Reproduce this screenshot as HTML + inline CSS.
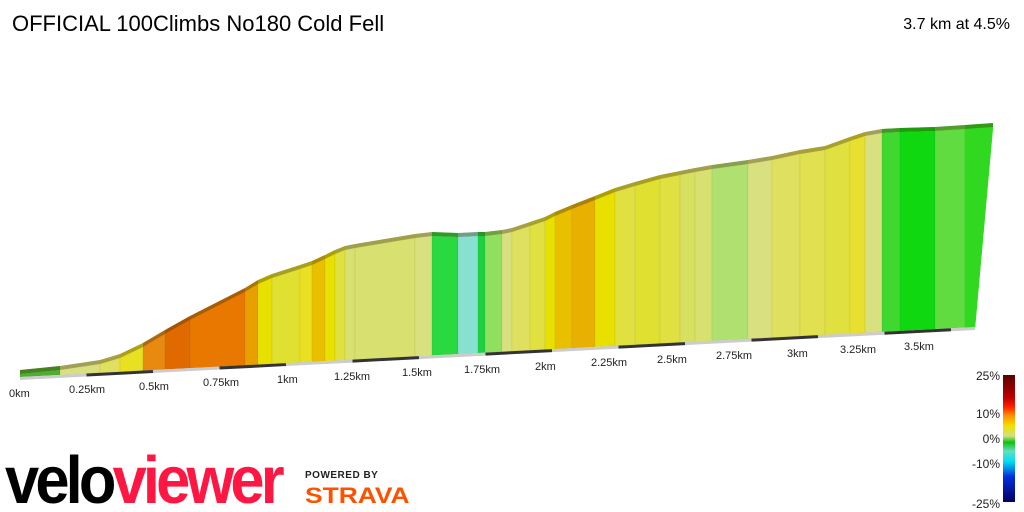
<!DOCTYPE html>
<html><head><meta charset="utf-8"><style>
html,body{margin:0;padding:0;background:#fff;width:1024px;height:512px;overflow:hidden;font-family:"Liberation Sans",sans-serif}
</style></head><body>
<svg id="s" width="1024" height="512" xmlns="http://www.w3.org/2000/svg" style="position:absolute;left:0;top:0">
<defs>
<linearGradient id="cb" x1="0" y1="0" x2="0" y2="1">
<stop offset="0" stop-color="#5a0000"/>
<stop offset="0.18" stop-color="#c00000"/>
<stop offset="0.25" stop-color="#ff2000"/>
<stop offset="0.32" stop-color="#ff9000"/>
<stop offset="0.40" stop-color="#f0e000"/>
<stop offset="0.48" stop-color="#d0e080"/>
<stop offset="0.53" stop-color="#10c010"/>
<stop offset="0.60" stop-color="#60e0c0"/>
<stop offset="0.68" stop-color="#00e0f0"/>
<stop offset="0.80" stop-color="#0030e0"/>
<stop offset="1" stop-color="#000060"/>
</linearGradient>
</defs>
<text x="12" y="31" font-size="22" fill="#000">OFFICIAL 100Climbs No180 Cold Fell</text>
<text x="1010" y="29" font-size="16" fill="#000" text-anchor="end">3.7 km at 4.5%</text>
<g id="prof"></g>
<g font-size="11" fill="#222">
<text x="9" y="397">0km</text>
<text x="69" y="393">0.25km</text>
<text x="139" y="390">0.5km</text>
<text x="203" y="386">0.75km</text>
<text x="277" y="383">1km</text>
<text x="334" y="380">1.25km</text>
<text x="402" y="376">1.5km</text>
<text x="464" y="373">1.75km</text>
<text x="535" y="370">2km</text>
<text x="591" y="366">2.25km</text>
<text x="657" y="363">2.5km</text>
<text x="716" y="359">2.75km</text>
<text x="787" y="357">3km</text>
<text x="840" y="353">3.25km</text>
<text x="904" y="350">3.5km</text>
</g>
<rect x="1003" y="375" width="12" height="127" fill="url(#cb)"/>
<g font-size="12" fill="#222" text-anchor="end">
<text x="1000" y="380">25%</text>
<text x="1000" y="418">10%</text>
<text x="1000" y="443">0%</text>
<text x="1000" y="468">-10%</text>
<text x="1000" y="508">-25%</text>
</g>
<g transform="translate(5,503) scale(0.96,1.05)" font-weight="bold" font-size="64" letter-spacing="-4">
<text x="0" y="0" fill="#000">velo<tspan fill="#ff1744">viewer</tspan></text>
</g>
<text x="305" y="478" font-size="10" font-weight="bold" fill="#222" letter-spacing="0.5">POWERED BY</text>
<text x="0" y="0" font-size="22" font-weight="bold" fill="#fc5200" transform="translate(305,503) scale(1.2,1)">STRAVA</text>
</svg>
<script>
var pts=[[20,370],[60,366],[100,360],[120,354],[143,343],[165,330],[190,316],[245,288],[258,280],[272,274],[300,265],[312,261],[325,255],[335,250],[345,246],[355,244],[415,234],[432,232],[458,233],[478,232],[485,232],[502,230],[512,228],[530,222],[545,217],[555,212],[572,205],[595,196],[615,188],[635,182],[660,175],[680,171],[695,168],[712,165],[748,160],[772,156],[800,150],[825,146],[850,137],[865,132],[882,129],[900,128],[935,127],[965,125],[993,123]];
var cols=["#4caf30","#d8e080","#e0e060","#e8e020","#e88a10","#e06a00","#e87800","#e8a000","#e8e000","#e0e030","#e8e020","#e8c000","#e8e000","#e0e040","#d8e070","#d8e070","#d8e080","#2ad840","#88e0d0","#20d040","#90e060","#d8e080","#e0e060","#e0e040","#e8e000","#e8c000","#e8b000","#e8e000","#e0e040","#e0e030","#e0e040","#d8e060","#d8e070","#b0e070","#d8e080","#e0e060","#e0e050","#e0e040","#e8e030","#d8e080","#40d830","#10d810","#60dc40","#30d820"];
function base(x){return 377-(x-20)*0.0524;}
var g=document.getElementById('prof'),h='';
for(var i=0;i<pts.length-1;i++){
 var a=pts[i],b=pts[i+1],c=cols[i];
 var bx=Math.min(b[0],975),ax=Math.min(a[0],975);
 var lb=base(ax),rb=base(bx);
 if(b[0]>975){
   h+='<polygon points="'+a[0]+','+(a[1]+4)+' '+b[0]+','+(b[1]+3)+' 975,'+base(975)+' '+ax+','+lb+'" fill="'+c+'" stroke="'+c+'" stroke-width="0.5"/>';
 } else {
   h+='<polygon points="'+a[0]+','+(a[1]+4)+' '+b[0]+','+(b[1]+4)+' '+bx+','+rb+' '+ax+','+lb+'" fill="'+c+'" stroke="rgba(0,0,0,0.08)" stroke-width="0.6"/>';
 }
 h+='<polygon points="'+a[0]+','+a[1]+' '+b[0]+','+b[1]+' '+b[0]+','+(b[1]+4)+' '+a[0]+','+(a[1]+4)+'" fill="'+c+'"/>';
 h+='<polygon points="'+a[0]+','+a[1]+' '+b[0]+','+b[1]+' '+b[0]+','+(b[1]+4)+' '+a[0]+','+(a[1]+4)+'" fill="rgba(60,40,0,0.35)"/>';
}
for(var k=0;k<15;k++){
 var x1=20+k*66.5,x2=Math.min(x1+66.5,975);
 h+='<line x1="'+x1+'" y1="'+(base(x1)+1.5)+'" x2="'+x2+'" y2="'+(base(x2)+1.5)+'" stroke="'+(k%2?'#333':'#ccc')+'" stroke-width="3"/>';
}
g.innerHTML=h;
</script>
</body></html>
